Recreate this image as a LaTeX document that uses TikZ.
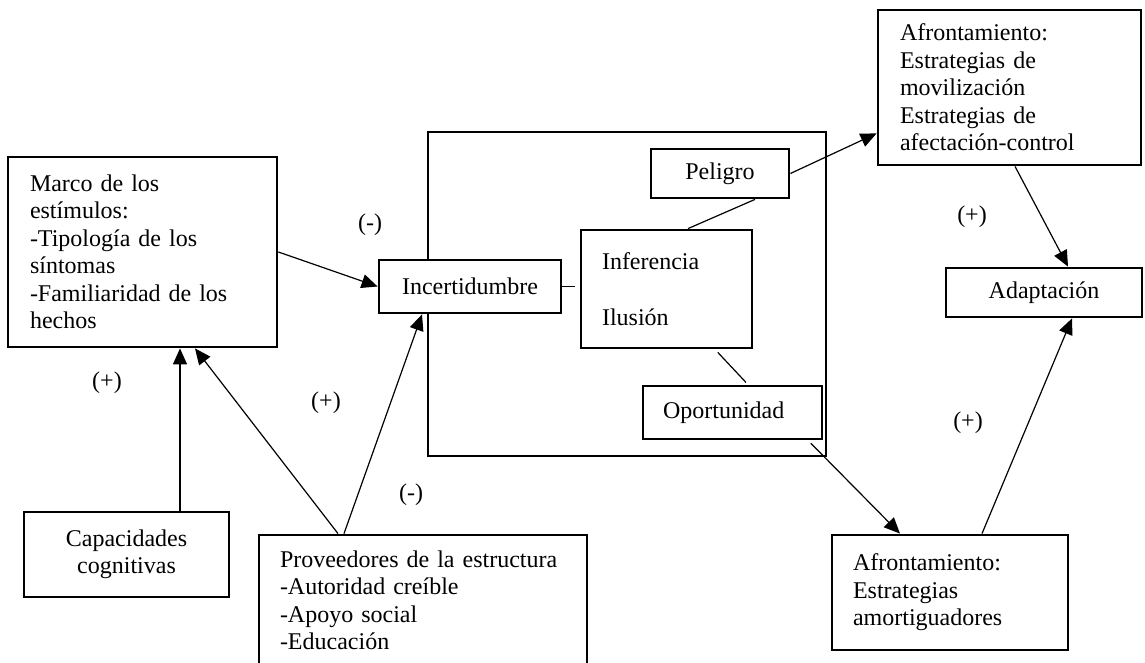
\documentclass[tikz,border=0pt]{standalone}
\usepackage{fontspec}
\setmainfont{Liberation Serif}
\usetikzlibrary{arrows.meta}
\begin{document}
\begin{tikzpicture}[x=0.5pt,y=-0.5pt,
  box/.style={draw, line width=1.4pt, fill=white, inner sep=0pt, font=\fontsize{12}{13.75}\selectfont},
  arr/.style={line width=0.6pt, -{Triangle[length=8pt,width=7pt]}},
  ln/.style={line width=0.6pt},
  sign/.style={font=\fontsize{12}{13.75}\selectfont, inner sep=0pt}]
\useasboundingbox (0,0) rectangle (1145,663);
\clip (0,0) rectangle (1145,663);

\node[box, minimum width=199pt, minimum height=162pt] (outer) at (627,294) {};
\node[box, text width=112.5pt, inner xsep=11pt, minimum height=95pt, align=left] (marco) at (142.5,252)
  {Marco de los\\estímulos:\\-Tipología de los\\síntomas\\-Familiaridad de los\\hechos};
\node[box, minimum width=91pt, minimum height=26.5pt] (incert) at (470,286.5) {Incertidumbre};
\node[box, text width=64.5pt, inner xsep=10.5pt, minimum height=59pt, align=left] (infer) at (666.5,289)
  {Inferencia\\[14pt]Ilusión};
\node[box, minimum width=69pt, minimum height=24.5pt] (peligro) at (720,173.5) {Peligro};
\node[box, text width=69.5pt, inner xsep=10pt, minimum height=26.5pt, align=left] (oport) at (732.5,412.5) {Oportunidad};
\node[box, text width=109.5pt, inner xsep=11pt, minimum height=77.5pt, align=left] (afront1) at (1009.5,87.5)
  {Afrontamiento:\\Estrategias de\\movilización\\Estrategias de\\afectación-control};
\node[box, minimum width=98pt, minimum height=24.5pt] (adapt) at (1044,292.5) {Adaptación};
\node[box, text width=97pt, inner xsep=10.5pt, minimum height=57.5pt, align=left] (afront2) at (950,592.5)
  {Afrontamiento:\\Estrategias\\amortiguadores};
\node[box, minimum width=102.5pt, minimum height=42.5pt, align=center] (capac) at (126.5,554.5)
  {Capacidades\\cognitivas};
\node[box, text width=143pt, inner xsep=10.5pt, minimum height=65.5pt, align=left] (prov) at (423,600.5)
  {Proveedores de la estructura\\-Autoridad creíble\\-Apoyo social\\-Educación};

\draw[arr] (marco.east) -- (incert.west);
\draw[arr] ([xshift=26.75pt]capac.north) -- ([xshift=26.75pt]capac.north |- marco.south);
\draw[arr] ([xshift=-42.5pt]prov.north) -- ([xshift=26.25pt]marco.south);
\draw[arr] ([xshift=-39.5pt]prov.north) -- ([xshift=-24pt]incert.south);
\draw[ln, shorten >=2.5pt] (incert.east) -- (incert.east -| infer.west);
\draw[ln] ([xshift=17.5pt]peligro.south) -- ([xshift=10.75pt]infer.north);
\draw[arr] (peligro.east) -- ([yshift=16.5pt]afront1.south west);
\draw[ln, shorten <=2pt, shorten >=1.5pt] ([xshift=24.25pt]infer.south) -- ([xshift=7.75pt]oport.north);
\draw[arr, shorten <=2pt] ([xshift=37.75pt]oport.south) -- ([xshift=-25pt]afront2.north);
\draw[arr] ([xshift=16pt]afront2.north) -- ([xshift=14pt]adapt.south);
\draw[arr] ([xshift=2.75pt]afront1.south) -- ([xshift=12pt]adapt.north);

\node[sign] (s1) at (370,225) {(-)};
\node[sign] (s2) at (107,383) {(+)};
\node[sign] (s3) at (326,403) {(+)};
\node[sign] (s4) at (411,495) {(-)};
\node[sign] (s5) at (972,217) {(+)};
\node[sign] (s6) at (968,423) {(+)};
\end{tikzpicture}
\end{document}
